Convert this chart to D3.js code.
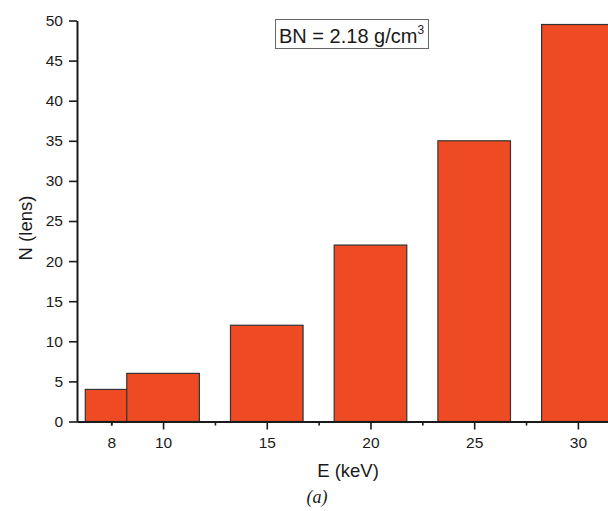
<!DOCTYPE html>
<html lang="en">
	<head>
		<meta charset="utf-8">
		<title>BN lens count vs energy</title>
		<script type="text/javascript" src="https://d3js.org/d3.v7.min.js"></script>
		<style type="text/css">
			body { margin: 0; background: #fff; }
			svg text { font-family: "Liberation Sans", Arial, sans-serif; fill: #1a1a1a; }
		</style>
	</head>
	<body>
		<script type="text/javascript">

			//Data
			var energies = [8, 10, 15, 20, 25, 30];
			var lensCounts = [4, 6, 12, 22, 35, 49.5];
			var tickPositions = [7.5, 10, 15, 20, 25, 30];
			var tickLabels = ["8", "10", "15", "20", "25", "30"];
			var minorTicks = [7.5, 12.5, 17.5, 22.5, 27.5];
			var yTicks = [0, 5, 10, 15, 20, 25, 30, 35, 40, 45, 50];
			var barWidth = 3.5; // in keV

			//Width and height
			var w = 608;
			var h = 511;

			var svg = d3.select("body")
						.append("svg")
						.attr("width", w)
						.attr("height", h);

			var x = d3.scaleLinear()
						.domain([5.85, 31.5])
						.range([77, 609]);

			var y = d3.scaleLinear()
						.domain([0, 50])
						.range([421.5, 20.5]);

			//Bars (drawn in order so the 10 keV bar covers the 8 keV one)
			svg.selectAll("rect.bar")
			   .data(energies)
			   .enter()
			   .append("rect")
			   .attr("class", "bar")
			   .attr("x", function(d) { return x(d - barWidth / 2); })
			   .attr("width", function(d) { return x(d + barWidth / 2) - x(d - barWidth / 2); })
			   .attr("y", function(d, i) { return y(lensCounts[i]); })
			   .attr("height", function(d, i) { return y(0) - y(lensCounts[i]); })
			   .attr("fill", "#ee4b25")
			   .attr("stroke", "#333")
			   .attr("stroke-width", 1.2);

			//Y axis
			svg.append("g")
				.attr("transform", "translate(" + x.range()[0] + ",0)")
				.call(d3.axisLeft(y)
					.tickValues(yTicks)
					.tickSize(8)
					.tickPadding(6)
					.tickSizeOuter(0));

			//X axis minor ticks
			svg.append("g")
				.attr("transform", "translate(0," + y(0) + ")")
				.call(d3.axisBottom(x)
					.tickValues(minorTicks)
					.tickSize(4)
					.tickFormat("")
					.tickSizeOuter(0));

			//X axis major ticks + labels
			var xAxis = svg.append("g")
				.attr("transform", "translate(0," + y(0) + ")")
				.call(d3.axisBottom(x)
					.tickValues(tickPositions)
					.tickSize(8)
					.tickPadding(7)
					.tickFormat(function(d, i) { return tickLabels[i]; })
					.tickSizeOuter(0));
			xAxis.selectAll(".tick")
				.filter(function(d) { return minorTicks.indexOf(d) >= 0; })
				.select("line")
				.attr("y2", 4);

			svg.selectAll(".domain").attr("stroke", "#1a1a1a").attr("stroke-width", 2);
			svg.selectAll(".tick line").attr("stroke", "#1a1a1a").attr("stroke-width", 1.6);
			svg.selectAll(".tick text").attr("font-size", 15.5).attr("fill", "#1a1a1a")
				.attr("font-family", "Liberation Sans, Arial, sans-serif");

			//Axis titles
			svg.append("text")
				.attr("x", 348)
				.attr("y", 477)
				.attr("text-anchor", "middle")
				.attr("font-size", 18.5)
				.text("E (keV)");

			svg.append("text")
				.attr("transform", "translate(32,228) rotate(-90)")
				.attr("text-anchor", "middle")
				.attr("font-size", 18.5)
				.text("N (lens)");

			svg.append("text")
				.attr("x", 317)
				.attr("y", 503)
				.attr("text-anchor", "middle")
				.attr("font-size", 18)
				.attr("font-style", "italic")
				.style("font-family", "'Liberation Serif', 'Times New Roman', serif")
				.text("(a)");

			//Density label box
			var lg = svg.append("g");
			lg.append("rect")
				.attr("x", 275.5)
				.attr("y", 19.5)
				.attr("width", 153)
				.attr("height", 29)
				.attr("fill", "#fff")
				.attr("stroke", "#666")
				.attr("stroke-width", 1);
			var lt = lg.append("text")
				.attr("x", 279)
				.attr("y", 43)
				.attr("font-size", 20);
			lt.append("tspan").text("BN = 2.18 g/cm");
			lt.append("tspan")
				.attr("font-size", 12)
				.attr("dy", -9)
				.text("3");

		</script>
	</body>
</html>
